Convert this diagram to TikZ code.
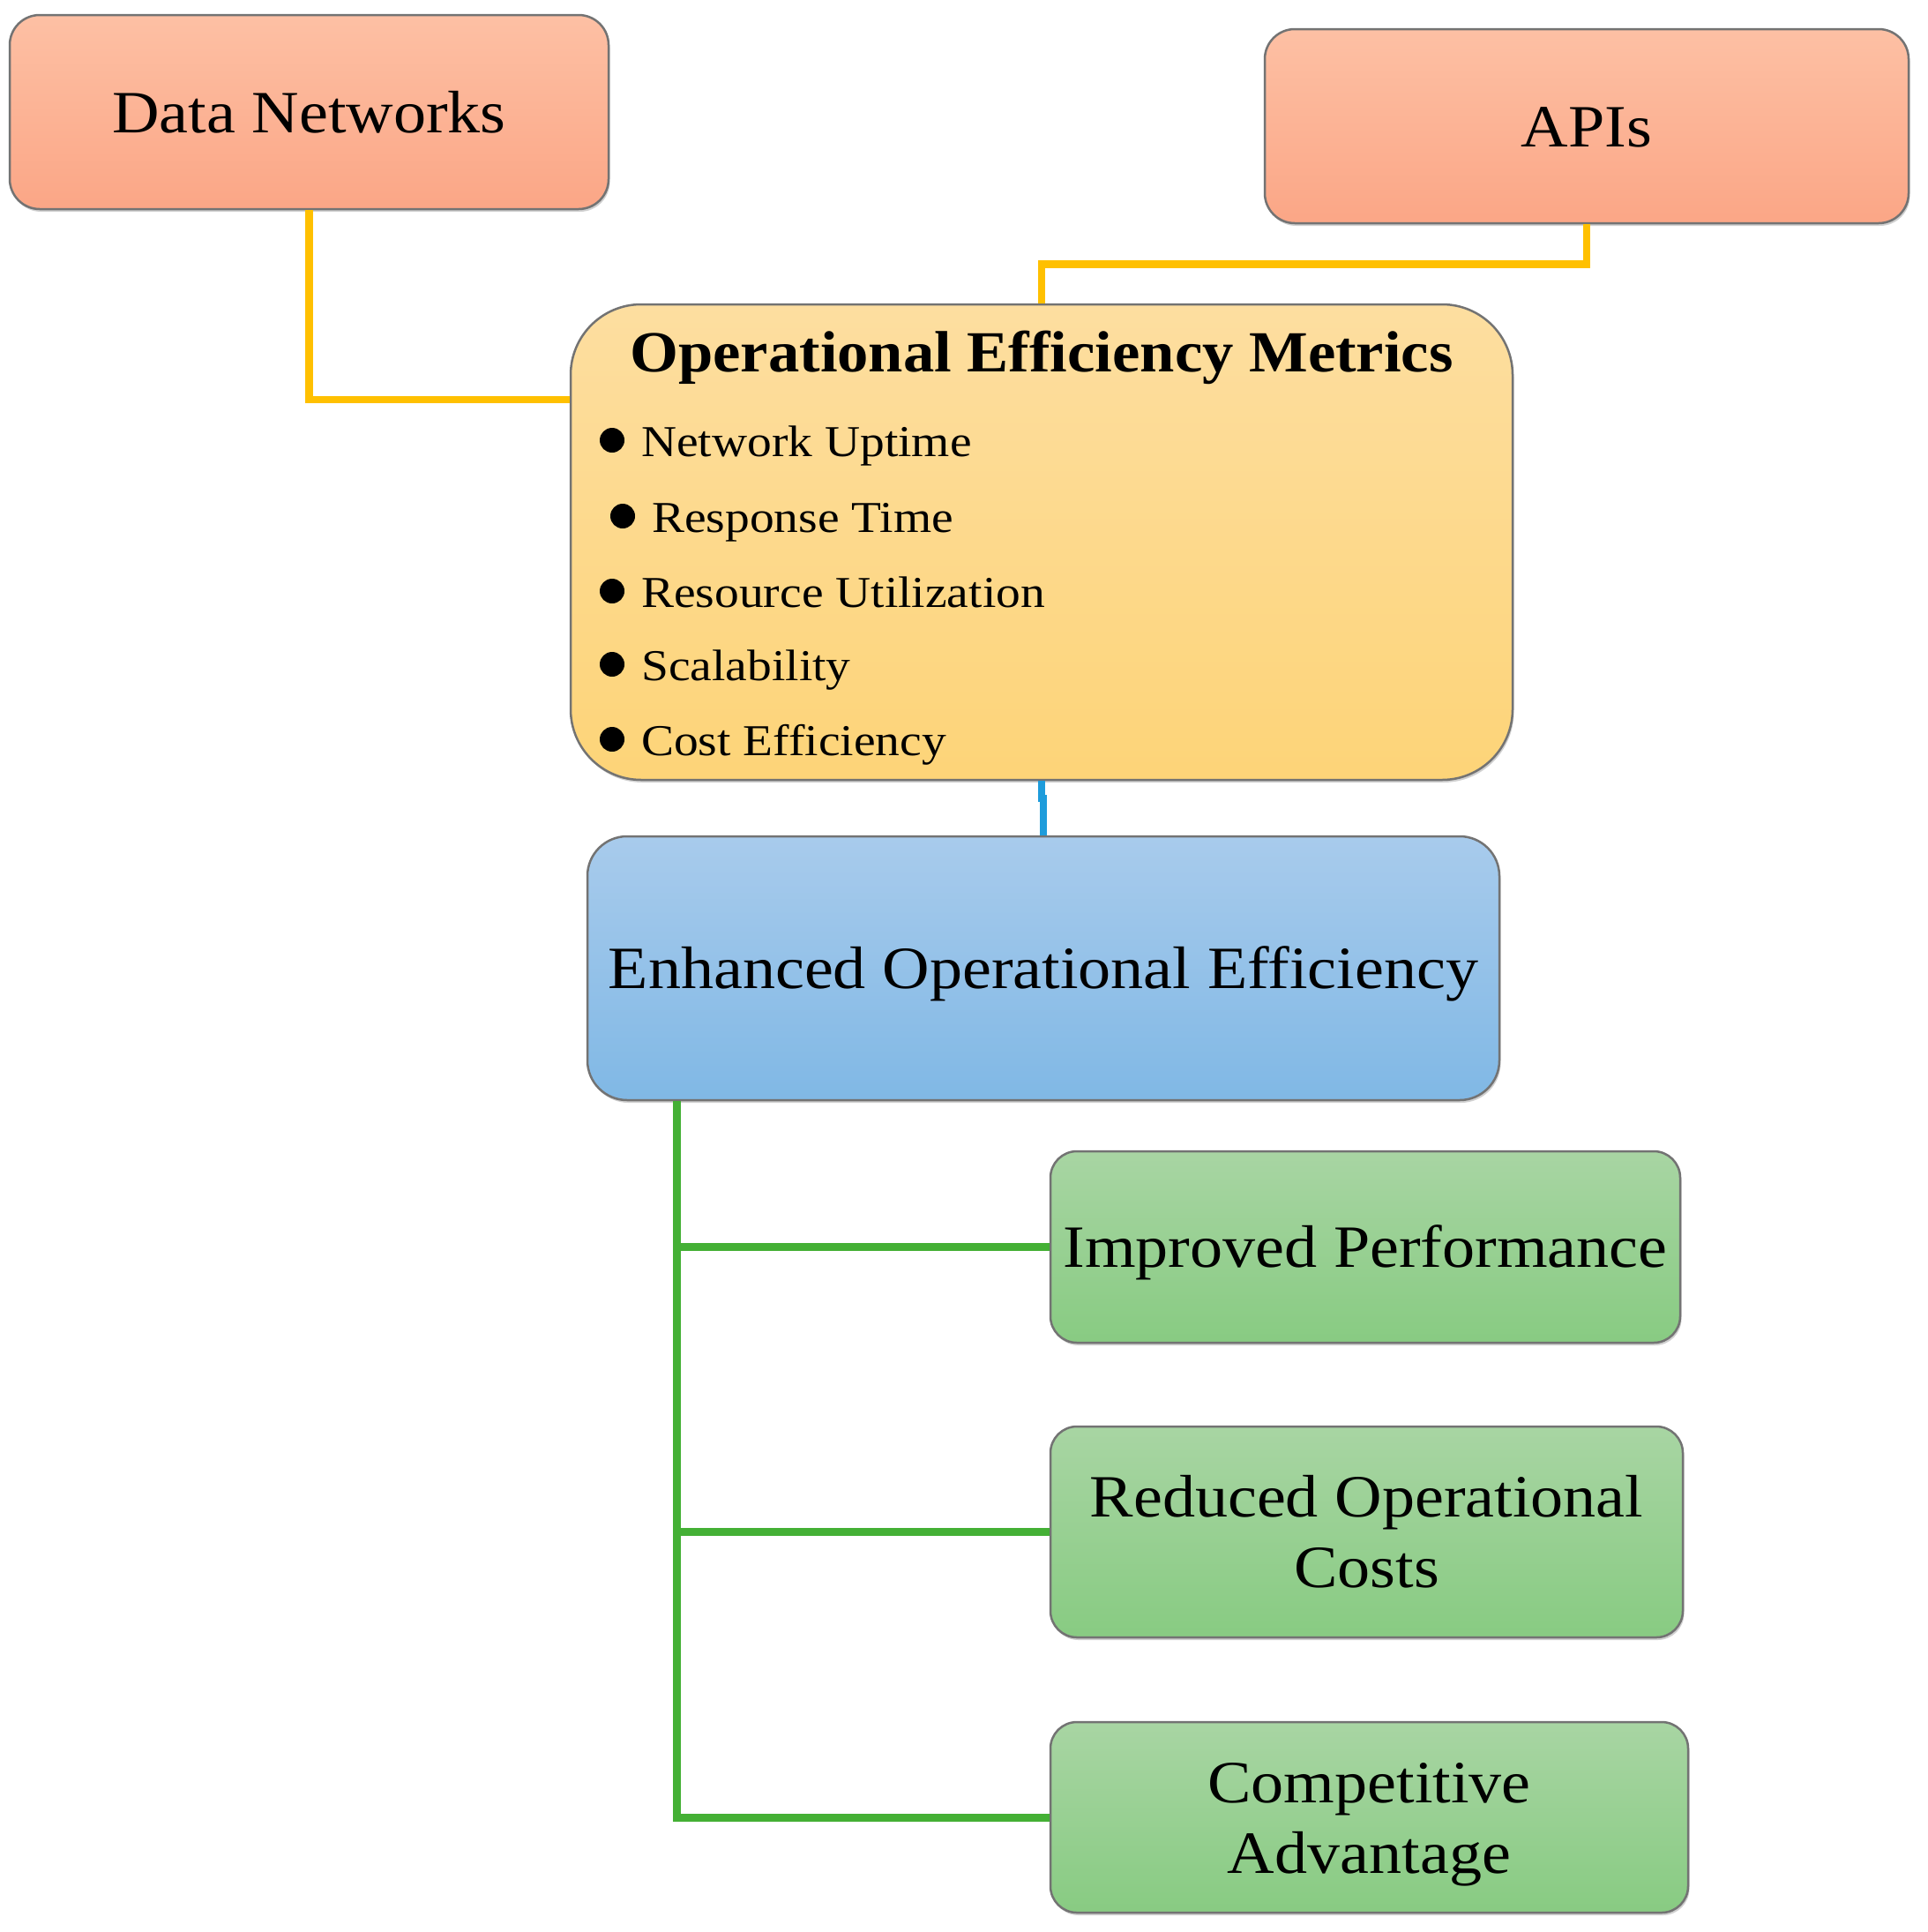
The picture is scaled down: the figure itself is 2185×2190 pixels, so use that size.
\documentclass[tikz,border=0pt]{standalone}
\usepackage{fontspec}
\setmainfont{Liberation Serif}[FakeStretch=1.09]
\newfontfamily\titlefont{Liberation Serif}[FakeStretch=1.07]
\newfontfamily\itemfont{Liberation Serif}[FakeStretch=1.11]
\usetikzlibrary{shadows}
\definecolor{salmonT}{RGB}{253,192,164}
\definecolor{salmonB}{RGB}{251,166,134}
\definecolor{goldT}{RGB}{253,222,160}
\definecolor{goldB}{RGB}{253,212,120}
\definecolor{blueT}{RGB}{168,203,236}
\definecolor{blueB}{RGB}{128,184,229}
\definecolor{greenT}{RGB}{168,213,163}
\definecolor{greenB}{RGB}{136,203,130}
\definecolor{ylink}{RGB}{255,192,0}
\definecolor{blink}{RGB}{30,156,219}
\definecolor{glink}{RGB}{68,176,53}
\tikzset{
  boxbase/.style={rectangle, draw=black!55, line width=2.5pt, inner sep=0pt,
    align=center, text=black,
    drop shadow={shadow xshift=1.5pt, shadow yshift=-3pt, opacity=0.3, fill=black!60}},
  bigtext/.style={font=\fontsize{68}{80}\selectfont, text height=46pt, text depth=0pt},
  twoline/.style={font=\fontsize{68}{80}\selectfont, text height=126pt, text depth=0pt},
  salmonbox/.style={boxbase, top color=salmonT, bottom color=salmonB, rounded corners=34pt},
  goldbox/.style={boxbase, top color=goldT, bottom color=goldB, rounded corners=80pt},
  bluebox/.style={boxbase, top color=blueT, bottom color=blueB, rounded corners=45pt},
  greenbox/.style={boxbase, top color=greenT, bottom color=greenB, rounded corners=30pt},
  itemtext/.style={anchor=base west, inner sep=0pt, font=\itemfont\fontsize{50}{58}\selectfont},
  titletext/.style={anchor=base, inner sep=0pt, font=\titlefont\fontsize{66}{76}\selectfont\bfseries},
  ylinkline/.style={draw=ylink, line width=8.5pt},
  blinkline/.style={draw=blink, line width=8pt},
  glinkline/.style={draw=glink, line width=9pt}
}
\begin{document}
\begin{tikzpicture}[x=1pt, y=-1pt]
\useasboundingbox[fill=white] (0,0) rectangle (2185,2190);

\node[salmonbox, bigtext, minimum width=679pt, minimum height=220pt] (dn) at (350.5,127) {Data Networks};
\node[salmonbox, bigtext, minimum width=730pt, minimum height=220pt] (api) at (1799,143) {APIs};
\node[goldbox, minimum width=1068pt, minimum height=539pt] (met) at (1181,614.5) {};
\node[bluebox, bigtext, minimum width=1034pt, minimum height=299pt] (eff) at (1183,1097.5) {Enhanced Operational Efficiency};
\node[greenbox, bigtext, minimum width=714pt, minimum height=217pt] (g1) at (1548,1413.5) {Improved Performance};
\node[greenbox, twoline, minimum width=717pt, minimum height=239pt] (g2) at (1549.5,1736.5) {Reduced Operational\\Costs};
\node[greenbox, twoline, minimum width=723pt, minimum height=216pt] (g3) at (1552.5,2060) {Competitive\\Advantage};

% metrics content
\node[titletext] (title) at (1181,421) {Operational Efficiency Metrics};
\node[itemtext] (i1) at (727,517) {Network Uptime};
\node[itemtext] (i2) at (739,603) {Response Time};
\node[itemtext] (i3) at (727,688) {Resource Utilization};
\node[itemtext] (i4) at (727,771) {Scalability};
\node[itemtext] (i5) at (727,856) {Cost Efficiency};
\foreach \n in {i1,i2,i3,i4,i5}{
  \fill[black] ([xshift=-33pt,yshift=18pt]\n.base west) circle (14pt);
}

% connectors
\draw[ylinkline] (dn.south) |- ([yshift=161.5pt]met.west);
\draw[ylinkline] (api.south) -- ++(0,45) -| (met.north);
\draw[blinkline] (met.south) -- ++(0,20) -| (eff.north);
\coordinate (gtop) at ([xshift=103pt]eff.south west);
\draw[glinkline] (gtop) |- (g3.west);
\draw[glinkline] (gtop |- g1.west) -- (g1.west);
\draw[glinkline] (gtop |- g2.west) -- (g2.west);
\end{tikzpicture}
\end{document}
